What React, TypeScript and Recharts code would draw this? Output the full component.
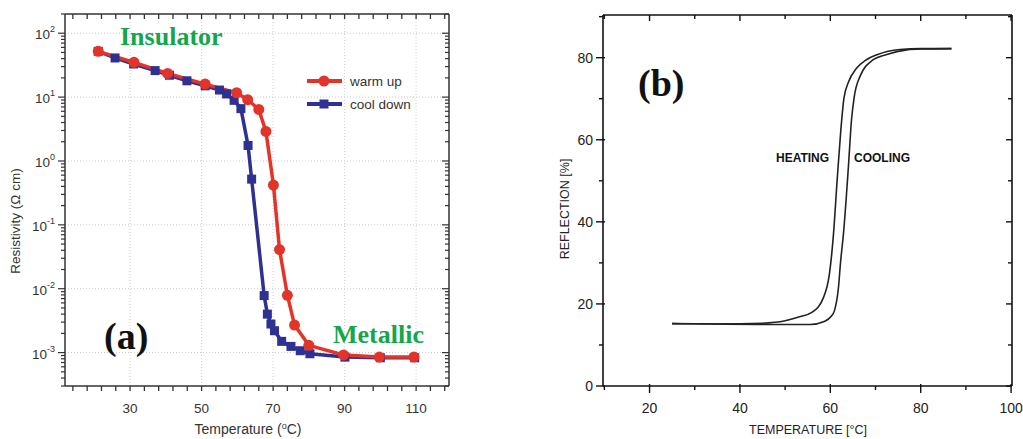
import React from "react";
import { LineChart, Line, XAxis, YAxis, ReferenceLine } from "recharts";

// (a) resistivity vs temperature
const warmTemp = [21.1, 31.1, 40.5, 51, 59.8, 62.9, 66, 68, 70.1, 71.8, 74, 76, 80, 89.7, 99.7, 109.4];
const warmRes = [52, 35, 23.5, 16, 11.7, 9.1, 6.4, 2.9, 0.42, 0.041, 0.0079, 0.0027, 0.0013, 0.00092, 0.00085, 0.00085];
const coolTemp = [21.1, 25.8, 31, 37, 41, 45.9, 51, 55, 57, 59.1, 61, 63, 64, 67.5, 68.4, 69.4, 70.4, 72.4, 75, 77.6, 80.3, 90.1, 100, 109.6];
const coolRes = [52, 41, 33, 26, 22, 18, 15, 12.9, 11.2, 8.9, 6.6, 1.75, 0.52, 0.0078, 0.004, 0.0028, 0.0022, 0.0015, 0.00125, 0.00107, 0.00096, 0.00085, 0.00083, 0.00083];

// (b) reflection vs temperature
const heatTemp = [25, 35, 45, 50, 53, 56, 58.5, 59.8, 60.7, 61.5, 62.3, 63, 64, 65.8, 68, 70.3, 75.4, 80, 86.8];
const heatRefl = [15.2, 15.1, 15.3, 15.9, 16.8, 18, 21.6, 27.3, 37, 50, 62, 70, 74, 77.4, 79.5, 80.7, 82, 82.2, 82.2];
const coolTempB = [25, 35, 45, 55.5, 58.8, 60.2, 60.9, 61.8, 62.3, 62.9, 64, 64.7, 65.3, 66.6, 69.5, 72.5, 76.9, 80, 86.8];
const coolRefl = [15.2, 15.1, 15, 15, 15.8, 17, 18.3, 24, 30.6, 37, 53.4, 65, 70.5, 75.5, 79.5, 80.8, 81.9, 82.1, 82.2];

const tempLabelsA = [30, 50, 70, 90, 110];
const decades = [1e-3, 1e-2, 1e-1, 1, 10, 100];
const tempLabelsB = [20, 40, 60, 80, 100];
const reflLabels = [0, 20, 40, 60, 80];

const warmData = warmTemp.map((t, i) => ({ t, r: warmRes[i] }));
const coolData = coolTemp.map((t, i) => ({ t, r: coolRes[i] }));
const heatData = heatTemp.map((t, i) => ({ t, r: heatRefl[i] }));
const coolDataB = coolTempB.map((t, i) => ({ t, r: coolRefl[i] }));

const RED = "#e3342a";
const BLUE = "#2e3191";
const GREEN = "#13a64b";
const SANS = "'Liberation Sans', Arial, sans-serif";
const SERIF = "'Liberation Serif', 'Times New Roman', serif";

const xTicksA: number[] = [];
for (let t = 14; t <= 118; t += 4) xTicksA.push(t);
const yTicksA: number[] = [];
for (let e = -4; e <= 2; e++) {
  for (let m = 1; m <= 9; m++) {
    const v = m * Math.pow(10, e);
    if (v >= 3e-4 && v <= 200) yTicksA.push(Number(v.toPrecision(3)));
  }
}
const xTicksB = [10, 20, 30, 40, 50, 60, 70, 80, 90, 100];
const yTicksB = [0, 10, 20, 30, 40, 50, 60, 70, 80, 90];

const isDecade = (v: number) => decades.some((d) => Math.abs(v / d - 1) < 1e-6);

const BottomTickA = (props: any) => {
  const { x, y, payload } = props;
  const major = tempLabelsA.includes(payload.value);
  return (
    <g>
      <line x1={x} x2={x} y1={y} y2={y + 5} stroke="#333" strokeWidth={1.3} />
      {major && (
        <text x={x} y={y + 27} textAnchor="middle" fontSize={13.5} fill="#333" fontFamily={SANS}>
          {payload.value}
        </text>
      )}
    </g>
  );
};
const TopTickA = (props: any) => {
  const { x, y } = props;
  return <line x1={x} x2={x} y1={y} y2={y + 5} stroke="#333" strokeWidth={1.3} />;
};
const LeftTickA = (props: any) => {
  const { x, y, payload } = props;
  const major = isDecade(payload.value);
  const exp = Math.round(Math.log10(payload.value));
  return (
    <g>
      <line x1={x - (major ? 7 : 4)} x2={x} y1={y} y2={y} stroke="#333" strokeWidth={1.2} />
      {major && (
        <text x={x - 10} y={y + 6} textAnchor="end" fontSize={13.5} fill="#333" fontFamily={SANS}>
          10
          <tspan dy={-7} fontSize={9}>{exp}</tspan>
        </text>
      )}
    </g>
  );
};
const RightTickA = (props: any) => {
  const { x, y, payload } = props;
  const major = isDecade(payload.value);
  return <line x1={x - (major ? 7 : 4)} x2={x} y1={y} y2={y} stroke="#333" strokeWidth={1.2} />;
};

const BottomTickB = (props: any) => {
  const { x, y, payload } = props;
  const major = tempLabelsB.includes(payload.value);
  return (
    <g>
      <line x1={x} x2={x} y1={y - (major ? 2 : 0)} y2={y + (major ? 7 : 4)} stroke="#111" strokeWidth={1.4} />
      {major && (
        <text x={x} y={y + 27} textAnchor="middle" fontSize={14} fill="#222" fontFamily={SANS}>
          {payload.value}
        </text>
      )}
    </g>
  );
};
const TopTickB = (props: any) => {
  const { x, y, payload } = props;
  const major = tempLabelsB.includes(payload.value);
  return <line x1={x} x2={x} y1={y} y2={y + (major ? 6 : 4)} stroke="#111" strokeWidth={1.4} />;
};
const LeftTickB = (props: any) => {
  const { x, y, payload } = props;
  const major = reflLabels.includes(payload.value);
  return (
    <g>
      <line x1={x - (major ? 7 : 4)} x2={x + (major ? 2 : 0)} y1={y} y2={y} stroke="#111" strokeWidth={1.4} />
      {major && (
        <text x={x - 10} y={y + 5} textAnchor="end" fontSize={14} fill="#222" fontFamily={SANS}>
          {payload.value}
        </text>
      )}
    </g>
  );
};
const RightTickB = (props: any) => {
  const { x, y, payload } = props;
  const major = reflLabels.includes(payload.value);
  return <line x1={x - (major ? 6 : 4)} x2={x} y1={y} y2={y} stroke="#111" strokeWidth={1.4} />;
};

const CircleDot = (props: any) => (
  <circle key={`c-${props.index}`} cx={props.cx} cy={props.cy} r={5.5} fill={RED} />
);
const SquareDot = (props: any) => (
  <rect key={`s-${props.index}`} x={props.cx - 4.5} y={props.cy - 4.5} width={9} height={9} fill={BLUE} />
);

const ChartA = () => (
  <LineChart width={460} height={439} margin={{ top: 13, right: 10, bottom: 0, left: 0 }}>
    <XAxis xAxisId="b" type="number" dataKey="t" domain={[11.8, 119.2]} allowDataOverflow ticks={xTicksA}
      interval={0} tick={BottomTickA} tickLine={false} tickSize={0} tickMargin={0} height={53}
      axisLine={{ stroke: "#333", strokeWidth: 1.5 }} />
    <XAxis xAxisId="t" orientation="top" type="number" dataKey="t" domain={[11.8, 119.2]} allowDataOverflow
      ticks={xTicksA} interval={0} tick={TopTickA} tickLine={false} tickSize={0} tickMargin={0} height={1}
      axisLine={{ stroke: "#333", strokeWidth: 1.5 }} />
    <YAxis yAxisId="l" scale="log" type="number" domain={[3e-4, 200]} allowDataOverflow ticks={yTicksA}
      interval={0} tick={LeftTickA} tickLine={false} tickSize={0} tickMargin={0} width={65}
      axisLine={{ stroke: "#333", strokeWidth: 1.5 }} />
    <YAxis yAxisId="r" orientation="right" scale="log" type="number" domain={[3e-4, 200]} allowDataOverflow
      ticks={yTicksA} interval={0} tick={RightTickA} tickLine={false} tickSize={0} tickMargin={0} width={1}
      axisLine={{ stroke: "#333", strokeWidth: 1.5 }} />
    {decades.map((d) => (
      <ReferenceLine key={`gy-${d}`} xAxisId="b" yAxisId="l" y={d} stroke="#c8c8c8" strokeDasharray="1 2" />
    ))}
    {tempLabelsA.map((t) => (
      <ReferenceLine key={`gx-${t}`} xAxisId="b" yAxisId="l" x={t} stroke="#d0d0d0" strokeDasharray="1 2" />
    ))}
    <Line xAxisId="b" yAxisId="l" data={coolData} dataKey="r" type="linear" stroke={BLUE} strokeWidth={3.5}
      dot={SquareDot} isAnimationActive={false} />
    <Line xAxisId="b" yAxisId="l" data={warmData} dataKey="r" type="linear" stroke={RED} strokeWidth={3.5}
      dot={CircleDot} isAnimationActive={false} />
  </LineChart>
);

const ChartB = () => (
  <LineChart width={503} height={439} margin={{ top: 14, right: 10, bottom: 0, left: 0 }}>
    <XAxis xAxisId="b" type="number" dataKey="t" domain={[9.7, 100.2]} allowDataOverflow ticks={xTicksB}
      interval={0} tick={BottomTickB} tickLine={false} tickSize={0} tickMargin={0} height={53}
      axisLine={{ stroke: "#111", strokeWidth: 1.6 }} />
    <XAxis xAxisId="t" orientation="top" type="number" dataKey="t" domain={[9.7, 100.2]} allowDataOverflow
      ticks={xTicksB} interval={0} tick={TopTickB} tickLine={false} tickSize={0} tickMargin={0} height={1}
      axisLine={{ stroke: "#111", strokeWidth: 1.6 }} />
    <YAxis yAxisId="l" type="number" domain={[0, 90.4]} allowDataOverflow ticks={yTicksB} interval={0}
      tick={LeftTickB} tickLine={false} tickSize={0} tickMargin={0} width={83}
      axisLine={{ stroke: "#111", strokeWidth: 1.6 }} />
    <YAxis yAxisId="r" orientation="right" type="number" domain={[0, 90.4]} allowDataOverflow ticks={yTicksB}
      interval={0} tick={RightTickB} tickLine={false} tickSize={0} tickMargin={0} width={1}
      axisLine={{ stroke: "#111", strokeWidth: 1.6 }} />
    <Line xAxisId="b" yAxisId="l" data={heatData} dataKey="r" type="monotone" stroke="#222" strokeWidth={1.6}
      dot={false} isAnimationActive={false} />
    <Line xAxisId="b" yAxisId="l" data={coolDataB} dataKey="r" type="monotone" stroke="#222" strokeWidth={1.6}
      dot={false} isAnimationActive={false} />
  </LineChart>
);

const abs = (left: number, top: number, extra: React.CSSProperties = {}): React.CSSProperties => ({
  position: "absolute", left, top, whiteSpace: "nowrap", lineHeight: 1, ...extra,
});

export default function App() {
  return (
    <div style={{ position: "absolute", left: 0, top: 0, width: 1023, height: 439, background: "#fff", overflow: "hidden" }}>
      <div style={abs(0, 0)}><ChartA /></div>
      <div style={abs(520, 0)}><ChartB /></div>

      {/* panel (a) annotations */}
      <div style={abs(120, 24, { fontFamily: SERIF, fontWeight: "bold", fontSize: 26, color: GREEN })}>Insulator</div>
      <div style={abs(333, 322, { fontFamily: SERIF, fontWeight: "bold", fontSize: 26, color: GREEN })}>Metallic</div>
      <div style={abs(104, 317, { fontFamily: SERIF, fontWeight: "bold", fontSize: 38, color: "#111" })}>(a)</div>
      <div style={abs(16, 221, { fontFamily: SANS, fontSize: 13.5, color: "#333", transform: "translate(-50%, -50%) rotate(-90deg)" })}>
        Resistivity (Ω cm)
      </div>
      <svg style={abs(180, 418)} width={140} height={20}>
        <text x={68} y={16} textAnchor="middle" fontSize={14} fill="#333" fontFamily={SANS}>
          Temperature (<tspan dy={-5} fontSize={9}>o</tspan><tspan dy={5}>C)</tspan>
        </text>
      </svg>
      <svg style={abs(300, 66)} width={120} height={48}>
        <line x1={7} x2={42} y1={15} y2={15} stroke={RED} strokeWidth={4} />
        <circle cx={24} cy={15} r={5.5} fill={RED} />
        <line x1={7} x2={42} y1={38} y2={38} stroke={BLUE} strokeWidth={4} />
        <rect x={19.5} y={33.5} width={9} height={9} fill={BLUE} />
        <text x={50} y={20} fontSize={13.5} fill="#333" fontFamily={SANS}>warm up</text>
        <text x={50} y={43} fontSize={13.5} fill="#333" fontFamily={SANS}>cool down</text>
      </svg>

      {/* panel (b) annotations */}
      <div style={abs(638, 64, { fontFamily: SERIF, fontWeight: "bold", fontSize: 38, color: "#111" })}>(b)</div>
      <div style={abs(776, 152, { fontFamily: SANS, fontWeight: "bold", fontSize: 12, color: "#111" })}>HEATING</div>
      <div style={abs(854, 152, { fontFamily: SANS, fontWeight: "bold", fontSize: 12, color: "#111" })}>COOLING</div>
      <div style={abs(565, 209, { fontFamily: SANS, fontSize: 12.5, color: "#222", transform: "translate(-50%, -50%) rotate(-90deg)" })}>
        REFLECTION [%]
      </div>
      <div style={abs(808, 424, { fontFamily: SANS, fontSize: 12.5, color: "#222", transform: "translateX(-50%)" })}>
        TEMPERATURE [°C]
      </div>
    </div>
  );
}
